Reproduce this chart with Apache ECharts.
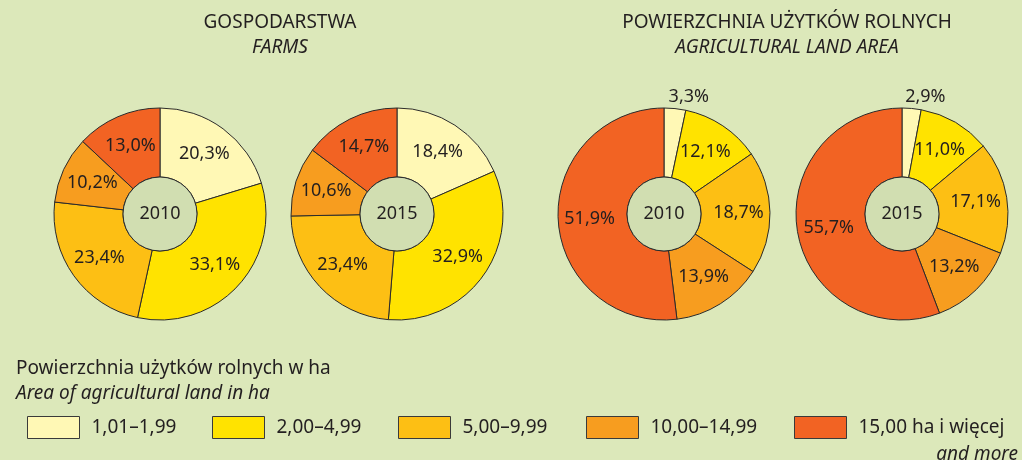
<!DOCTYPE html>
<html>
<head>
<meta charset="utf-8">
<script src="https://cdn.jsdelivr.net/npm/echarts@6/dist/echarts.min.js"></script>
<style>
  html, body { margin: 0; padding: 0; background: #dce8ba; }
  #chart { width: 1022px; height: 460px; }
</style>
</head>
<body>
<div id="chart"></div>
<script>
const categories = ["1,01–1,99", "2,00–4,99", "5,00–9,99", "10,00–14,99", "15,00 ha i więcej"];
const colors = ["#fff8b5", "#ffe300", "#fdbf14", "#f79d1f", "#f26323"];
const years = ["2010", "2015"];
const farms2010 = [20.3, 33.1, 23.4, 10.2, 13.0];
const farms2015 = [18.4, 32.9, 23.4, 10.6, 14.7];
const land2010 = [3.3, 12.1, 18.7, 13.9, 51.9];
const land2015 = [2.9, 11.0, 17.1, 13.2, 55.7];

const FONT = "Noto Sans";
const TXT = "#231f20";

const fmt = v => v.toFixed(1).replace(".", ",") + "%";

const chart = echarts.init(document.getElementById("chart"));

function ringSeries(values, cx, year) {
  return [
    {
      type: "pie",
      center: [cx, 214],
      radius: [37, 106],
      startAngle: 90,
      clockwise: true,
      silent: true,
      animation: false,
      itemStyle: { borderColor: "#2b2b2b", borderWidth: 1 },
      labelLine: { show: false, length: 6, length2: 0 },
      // small outside label sits just above the thin slice
      labelLayout: p => (values[p.dataIndex] < 5 ? { dx: -12, dy: -6 } : {}),
      data: values.map((v, i) => ({
        name: categories[i],
        value: v,
        itemStyle: { color: colors[i] },
        label: {
          show: true,
          position: v < 5 ? "outside" : "inside",
          formatter: fmt(v),
          color: TXT,
          fontFamily: FONT,
          fontSize: 18
        }
      }))
    },
    {
      type: "pie",
      center: [cx, 214],
      radius: [0, 37],
      silent: true,
      animation: false,
      itemStyle: { color: "#d1deb1", borderColor: "#2b2b2b", borderWidth: 1 },
      label: {
        show: true,
        position: "center",
        formatter: year,
        color: TXT,
        fontFamily: FONT,
        fontSize: 18
      },
      labelLine: { show: false },
      data: [{ name: "year" + year, value: 1 }]
    }
  ];
}

const legendLefts = [27, 212, 398, 586, 794];

const txt = (extra) => Object.assign({ fontFamily: FONT, fontSize: 19, fontWeight: "normal", color: TXT }, extra || {});

const option = {
  backgroundColor: "#dce8ba",
  color: colors,
  title: [
    { text: "GOSPODARSTWA", left: 280, top: 13, textAlign: "center", padding: 0, textStyle: txt() },
    { text: "FARMS", left: 280, top: 38, textAlign: "center", padding: 0, textStyle: txt({ fontStyle: "italic" }) },
    { text: "POWIERZCHNIA UŻYTKÓW ROLNYCH", left: 787, top: 13, textAlign: "center", padding: 0, textStyle: txt() },
    { text: "AGRICULTURAL LAND AREA", left: 787, top: 38, textAlign: "center", padding: 0, textStyle: txt({ fontStyle: "italic" }) },
    { text: "Powierzchnia użytków rolnych w ha", left: 16, top: 359, padding: 0, textStyle: txt() },
    { text: "Area of agricultural land in ha", left: 16, top: 384, padding: 0, textStyle: txt({ fontStyle: "italic" }) },
    { text: "and more", right: 4, top: 445, padding: 0, textStyle: txt({ fontStyle: "italic" }) }
  ],
  legend: categories.map((c, i) => ({
    left: legendLefts[i],
    top: 416,
    padding: 0,
    itemWidth: 52,
    itemHeight: 22,
    itemGap: 0,
    selectedMode: false,
    icon: "rect",
    itemStyle: { borderColor: "#3a3a3a", borderWidth: 1 },
    textStyle: { fontFamily: FONT, fontSize: 19, color: TXT, padding: [0, 0, 0, 7] },
    data: [c]
  })),
  series: [
    ...ringSeries(farms2010, 160, years[0]),
    ...ringSeries(farms2015, 397, years[1]),
    ...ringSeries(land2010, 664, years[0]),
    ...ringSeries(land2015, 902, years[1])
  ]
};

chart.setOption(option);
</script>
</body>
</html>
